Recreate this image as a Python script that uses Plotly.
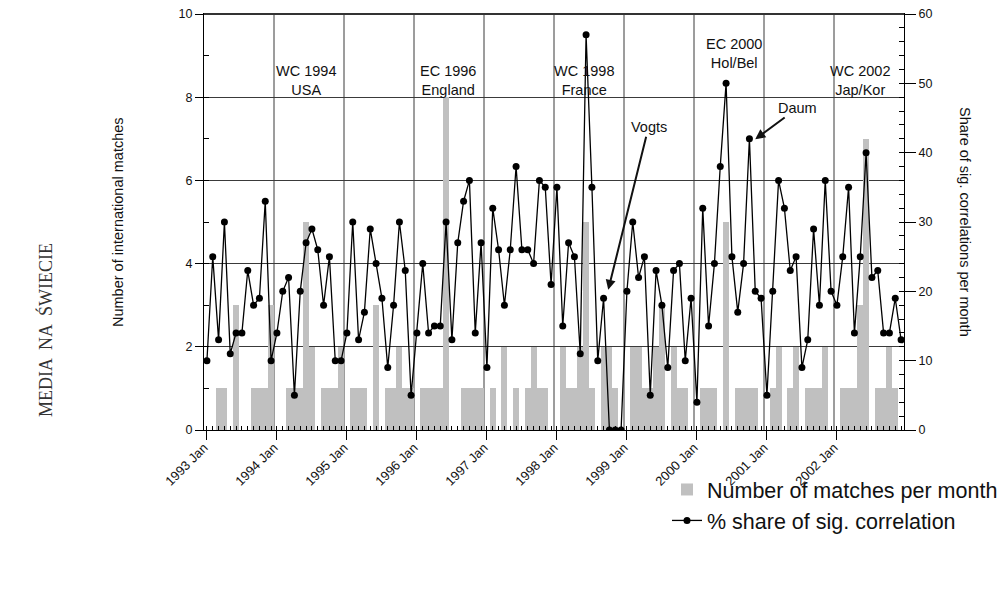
import plotly.graph_objects as go

# ---------------- data ----------------
years = list(range(1993, 2003))
tick_labels = [f"{y} Jan" for y in years]

matches = [0, 0, 1, 1, 0, 3, 0, 0, 1, 1, 1, 3,
           0, 0, 1, 1, 1, 5, 2, 0, 1, 1, 1, 2,
           0, 1, 1, 1, 0, 3, 0, 1, 1, 2, 1, 1,
           0, 1, 1, 1, 1, 8, 0, 0, 1, 1, 1, 1,
           0, 1, 0, 2, 0, 1, 0, 1, 2, 1, 1, 0,
           0, 2, 1, 1, 2, 5, 1, 0, 2, 2, 1, 0,
           0, 2, 2, 1, 1, 2, 3, 0, 2, 1, 1, 0,
           0, 1, 1, 1, 0, 5, 0, 1, 1, 1, 1, 0,
           0, 1, 2, 0, 1, 2, 0, 1, 1, 1, 2, 0,
           0, 1, 1, 1, 3, 7, 0, 1, 1, 2, 1, 0]

share = [10, 25, 13, 30, 11, 14, 14, 23, 18, 19, 33, 10,
         14, 20, 22, 5, 20, 27, 29, 26, 18, 25, 10, 10,
         14, 30, 13, 17, 29, 24, 19, 9, 18, 30, 23, 5,
         14, 24, 14, 15, 15, 30, 13, 27, 33, 36, 14, 27,
         9, 32, 26, 18, 26, 38, 26, 26, 24, 36, 35, 21,
         35, 15, 27, 25, 11, 57, 35, 10, 19, 0, 0, 0,
         20, 30, 22, 25, 5, 23, 18, 9, 23, 24, 10, 19,
         4, 32, 15, 24, 38, 50, 25, 17, 24, 42, 20, 19,
         5, 20, 36, 32, 23, 25, 9, 13, 29, 18, 36, 20,
         18, 25, 35, 14, 25, 40, 22, 23, 14, 14, 19, 13]

event_labels = ["WC 1994<br>USA", "EC 1996<br>England", "WC 1998<br>France",
                "EC 2000<br>Hol/Bel", "WC 2002<br>Jap/Kor"]
event_x = [17.0, 41.4, 64.7, 90.3, 111.9]
event_y = [8.4, 8.4, 8.4, 9.04, 8.4]

months = list(range(len(share)))
year_ticks = [12 * k for k in range(len(years))]

FONT = "Liberation Sans, Arial, sans-serif"
GRID = "#3a3a3a"
L, R, T, B = 204, 99, 14, 163
W, H = 1003, 593
PW, PH = W - L - R, H - T - B


def px_x(v):
    return (v - L) / PW


def px_y(v):
    return (H - B - v) / PH


fig = go.Figure()
fig.add_trace(go.Bar(
    x=months, y=matches, name="Number of matches per month",
    marker=dict(color="#c0c0c0", line=dict(width=0)), width=1.03, yaxis="y"))
fig.add_trace(go.Scatter(
    x=months, y=share, name="% share of sig. correlation",
    mode="lines+markers", line=dict(color="black", width=1.3),
    marker=dict(color="black", size=7), yaxis="y2"))

# vertical grid lines at year boundaries
shapes = []
for k in range(1, len(years)):
    xb = year_ticks[k] - 0.5
    shapes.append(dict(type="line", xref="x", yref="paper", x0=xb, x1=xb, y0=0, y1=1,
                       line=dict(color=GRID, width=1), layer="below"))
# heavier top frame line
shapes.append(dict(type="line", xref="paper", yref="paper", x0=0, x1=1, y0=1, y1=1,
                   line=dict(color="#333", width=2)))

annotations = []
for t, xx, yy in zip(event_labels, event_x, event_y):
    annotations.append(dict(x=xx, y=yy, xref="x", yref="y", text=t, showarrow=False,
                            font=dict(family=FONT, size=14.5, color="#111")))
annotations.append(dict(x=68.8, y=3.37, xref="x", yref="y", ax=75.7, ay=7.28,
                        axref="x", ayref="y", text="Vogts", showarrow=True,
                        arrowhead=2, arrowsize=1, arrowwidth=2, arrowcolor="#111",
                        font=dict(family=FONT, size=14.5, color="#111")))
annotations.append(dict(x=94.0, y=6.99, xref="x", yref="y", ax=101.25, ay=7.74,
                        axref="x", ayref="y", text="Daum", showarrow=True,
                        arrowhead=2, arrowsize=1, arrowwidth=2, arrowcolor="#111",
                        font=dict(family=FONT, size=14.5, color="#111")))
annotations.append(dict(x=px_x(118), y=px_y(222), xref="paper", yref="paper",
                        xanchor="center", yanchor="middle",
                        text="Number of international matches", showarrow=False,
                        textangle=-90, font=dict(family=FONT, size=14.5, color="#111")))
annotations.append(dict(x=px_x(965), y=px_y(222), xref="paper", yref="paper",
                        xanchor="center", yanchor="middle",
                        text="Share of sig. correlations per month", showarrow=False,
                        textangle=90, font=dict(family=FONT, size=14.5, color="#111")))
annotations.append(dict(x=px_x(45), y=px_y(330), xref="paper", yref="paper",
                        xanchor="center", yanchor="middle",
                        text="MEDIA  NA  ŚWIECIE", showarrow=False,
                        textangle=-90, font=dict(family="Liberation Serif, Times New Roman, serif",
                                                 size=18, color="#333")))

fig.update_layout(
    width=W, height=H,
    margin=dict(l=L, r=R, t=T, b=B, pad=0, autoexpand=False),
    paper_bgcolor="white", plot_bgcolor="white",
    bargap=0, showlegend=True,
    font=dict(family=FONT, color="#111"),
    legend=dict(x=px_x(667), y=px_y(469), xanchor="left", yanchor="top",
                font=dict(family=FONT, size=21.5, color="#111"), bgcolor="rgba(0,0,0,0)",
                tracegroupgap=0),
    xaxis=dict(range=[-0.5, len(share) - 0.5], tickmode="array", tickvals=year_ticks,
               ticktext=tick_labels, tickangle=-45, ticks="outside", ticklen=9,
               tickcolor="black", showgrid=False, zeroline=False, automargin=False,
               ticklabelstandoff=-5, ticklabelshift=-3,
               showline=True, linecolor="black", linewidth=1, mirror=True,
               tickfont=dict(family=FONT, size=13, color="#111"),
               minor=dict(tickmode="linear", tick0=0, dtick=1, ticks="inside",
                          ticklen=4, tickcolor="black", showgrid=False)),
    yaxis=dict(range=[0, 10], dtick=2, ticks="outside", ticklen=8, tickcolor="black",
               showgrid=True, gridcolor=GRID, gridwidth=1, zeroline=False,
               showline=True, linecolor="black", linewidth=1, automargin=False,
               tickfont=dict(family=FONT, size=12.5, color="#111"),
               minor=dict(dtick=1, ticks="inside", ticklen=5, tickcolor="black",
                          showgrid=False)),
    yaxis2=dict(range=[0, 60], dtick=10, overlaying="y", side="right",
                ticks="outside", ticklen=11, tickcolor="black", showgrid=False,
                zeroline=False, showline=True, linecolor="black", linewidth=1,
                automargin=False,
                tickfont=dict(family=FONT, size=12.5, color="#111"),
                minor=dict(dtick=2, ticks="inside", ticklen=5, tickcolor="black",
                           showgrid=False)),
    shapes=shapes,
    annotations=annotations,
)

fig.write_html("out.html", config={"displayModeBar": False},
               post_script="document.body.style.margin='0';")
